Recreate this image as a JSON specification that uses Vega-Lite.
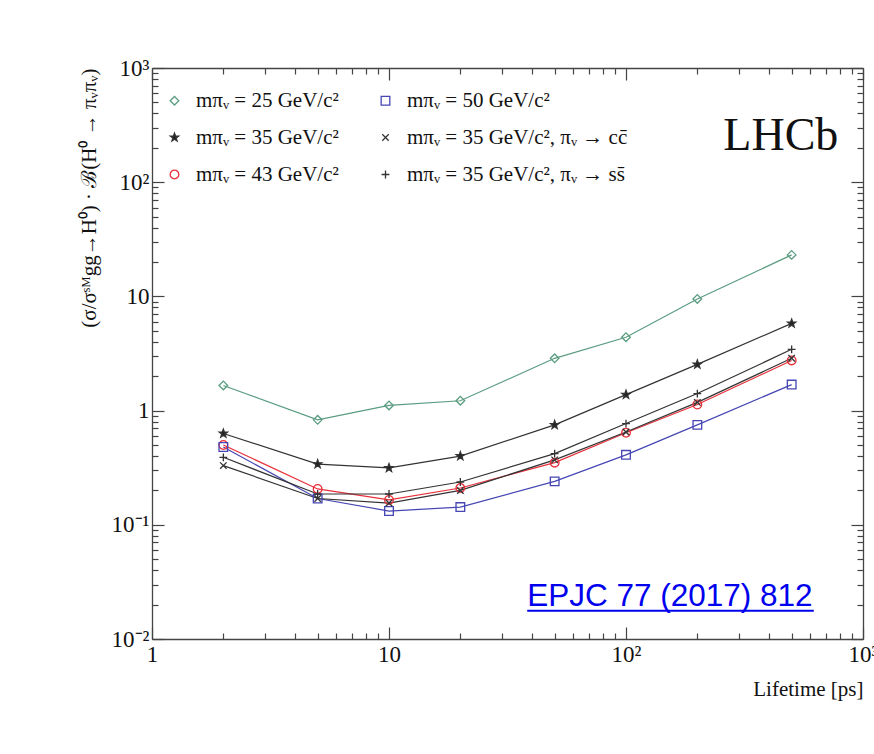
{
  "$schema": "https://vega.github.io/schema/vega-lite/v6.json",
  "width": 711,
  "height": 571,
  "autosize": {"type": "none"},
  "padding": {"left": 152, "top": 68, "right": 11, "bottom": 115},
  "background": "white",
  "config": {
    "view": {"stroke": null},
    "axis": {"grid": false, "domainColor": "#444", "domainWidth": 1.3, "tickColor": "#444", "tickWidth": 1.2,
             "labelFont": "Liberation Serif", "labelFontSize": 23, "labelColor": "#111",
             "titleFont": "Liberation Serif", "titleFontSize": 21, "titleFontWeight": "normal", "titleColor": "#111",
             "labelFlush": false, "labelOverlap": false}
  },
  "data": {"values": [
    {"t": 2, "v": 1.66, "s": "mπᵥ = 25 GeV/c²"},
    {"t": 5, "v": 0.83, "s": "mπᵥ = 25 GeV/c²"},
    {"t": 10, "v": 1.11, "s": "mπᵥ = 25 GeV/c²"},
    {"t": 20, "v": 1.22, "s": "mπᵥ = 25 GeV/c²"},
    {"t": 50, "v": 2.87, "s": "mπᵥ = 25 GeV/c²"},
    {"t": 100, "v": 4.39, "s": "mπᵥ = 25 GeV/c²"},
    {"t": 200, "v": 9.5, "s": "mπᵥ = 25 GeV/c²"},
    {"t": 500, "v": 23.1, "s": "mπᵥ = 25 GeV/c²"},
    {"t": 2, "v": 0.63, "s": "mπᵥ = 35 GeV/c²"},
    {"t": 5, "v": 0.34, "s": "mπᵥ = 35 GeV/c²"},
    {"t": 10, "v": 0.315, "s": "mπᵥ = 35 GeV/c²"},
    {"t": 20, "v": 0.4, "s": "mπᵥ = 35 GeV/c²"},
    {"t": 50, "v": 0.75, "s": "mπᵥ = 35 GeV/c²"},
    {"t": 100, "v": 1.38, "s": "mπᵥ = 35 GeV/c²"},
    {"t": 200, "v": 2.54, "s": "mπᵥ = 35 GeV/c²"},
    {"t": 500, "v": 5.8, "s": "mπᵥ = 35 GeV/c²"},
    {"t": 2, "v": 0.5, "s": "mπᵥ = 43 GeV/c²"},
    {"t": 5, "v": 0.206, "s": "mπᵥ = 43 GeV/c²"},
    {"t": 10, "v": 0.165, "s": "mπᵥ = 43 GeV/c²"},
    {"t": 20, "v": 0.21, "s": "mπᵥ = 43 GeV/c²"},
    {"t": 50, "v": 0.35, "s": "mπᵥ = 43 GeV/c²"},
    {"t": 100, "v": 0.64, "s": "mπᵥ = 43 GeV/c²"},
    {"t": 200, "v": 1.13, "s": "mπᵥ = 43 GeV/c²"},
    {"t": 500, "v": 2.75, "s": "mπᵥ = 43 GeV/c²"},
    {"t": 2, "v": 0.48, "s": "mπᵥ = 50 GeV/c²"},
    {"t": 5, "v": 0.17, "s": "mπᵥ = 50 GeV/c²"},
    {"t": 10, "v": 0.132, "s": "mπᵥ = 50 GeV/c²"},
    {"t": 20, "v": 0.143, "s": "mπᵥ = 50 GeV/c²"},
    {"t": 50, "v": 0.24, "s": "mπᵥ = 50 GeV/c²"},
    {"t": 100, "v": 0.41, "s": "mπᵥ = 50 GeV/c²"},
    {"t": 200, "v": 0.75, "s": "mπᵥ = 50 GeV/c²"},
    {"t": 500, "v": 1.69, "s": "mπᵥ = 50 GeV/c²"},
    {"t": 2, "v": 0.33, "s": "mπᵥ = 35 GeV/c², πᵥ → cc̄"},
    {"t": 5, "v": 0.17, "s": "mπᵥ = 35 GeV/c², πᵥ → cc̄"},
    {"t": 10, "v": 0.155, "s": "mπᵥ = 35 GeV/c², πᵥ → cc̄"},
    {"t": 20, "v": 0.2, "s": "mπᵥ = 35 GeV/c², πᵥ → cc̄"},
    {"t": 50, "v": 0.37, "s": "mπᵥ = 35 GeV/c², πᵥ → cc̄"},
    {"t": 100, "v": 0.65, "s": "mπᵥ = 35 GeV/c², πᵥ → cc̄"},
    {"t": 200, "v": 1.18, "s": "mπᵥ = 35 GeV/c², πᵥ → cc̄"},
    {"t": 500, "v": 2.87, "s": "mπᵥ = 35 GeV/c², πᵥ → cc̄"},
    {"t": 2, "v": 0.39, "s": "mπᵥ = 35 GeV/c², πᵥ → ss̄"},
    {"t": 5, "v": 0.186, "s": "mπᵥ = 35 GeV/c², πᵥ → ss̄"},
    {"t": 10, "v": 0.186, "s": "mπᵥ = 35 GeV/c², πᵥ → ss̄"},
    {"t": 20, "v": 0.237, "s": "mπᵥ = 35 GeV/c², πᵥ → ss̄"},
    {"t": 50, "v": 0.42, "s": "mπᵥ = 35 GeV/c², πᵥ → ss̄"},
    {"t": 100, "v": 0.77, "s": "mπᵥ = 35 GeV/c², πᵥ → ss̄"},
    {"t": 200, "v": 1.41, "s": "mπᵥ = 35 GeV/c², πᵥ → ss̄"},
    {"t": 500, "v": 3.44, "s": "mπᵥ = 35 GeV/c², πᵥ → ss̄"}
  ]},
  "layer": [
    {
      "mark": {"type": "line", "strokeWidth": 1.2},
      "encoding": {
        "x": {"field": "t", "type": "quantitative", "scale": {"type": "log", "domain": [1, 1000], "nice": false},
              "axis": {"orient": "bottom", "title": "Lifetime [ps]", "titleAnchor": "end", "titlePadding": 6,
                       "values": [1,2,3,4,5,6,7,8,9,10,20,30,40,50,60,70,80,90,100,200,300,400,500,600,700,800,900,1000],
                       "labelExpr": "datum.value == 1 ? '1' : datum.value == 10 ? '10' : datum.value == 100 ? '10²' : datum.value == 1000 ? '10³' : ''",
                       "tickSize": {"condition": {"test": "indexof([1,10,100,1000], datum.value) >= 0", "value": -12}, "value": -6},
                       "labelPadding": 16}},
        "y": {"field": "v", "type": "quantitative", "scale": {"type": "log", "domain": [0.01, 1000], "nice": false},
              "axis": {"orient": "left", "title": "(σ/σˢᴹgg→H⁰) · ℬ(H⁰ → πᵥπᵥ)", "titleAnchor": "end", "titlePadding": 12,
                       "values": [0.01,0.02,0.03,0.04,0.05,0.06,0.07,0.08,0.09,0.1,0.2,0.3,0.4,0.5,0.6,0.7,0.8,0.9,1,2,3,4,5,6,7,8,9,10,20,30,40,50,60,70,80,90,100,200,300,400,500,600,700,800,900,1000],
                       "labelExpr": "datum.value == 1000 ? '10³' : datum.value == 100 ? '10²' : datum.value == 10 ? '10' : datum.value == 1 ? '1' : datum.value == 0.1 ? '10⁻¹' : datum.value == 0.01 ? '10⁻²' : ''",
                       "tickSize": {"condition": {"test": "indexof([0.01,0.1,1,10,100,1000], datum.value) >= 0", "value": -12}, "value": -6},
                       "labelPadding": 15}},
        "color": {"field": "s", "type": "nominal",
                  "scale": {"domain": ["mπᵥ = 25 GeV/c²", "mπᵥ = 35 GeV/c²", "mπᵥ = 43 GeV/c²", "mπᵥ = 50 GeV/c²", "mπᵥ = 35 GeV/c², πᵥ → cc̄", "mπᵥ = 35 GeV/c², πᵥ → ss̄"],
                            "range": ["#5a9c80", "#333333", "#e8303a", "#4646b4", "#333333", "#333333"]},
                  "legend": {"orient": "none", "legendX": 12, "legendY": 22, "title": null, "columns": 2,
                             "labelFont": "Liberation Serif", "labelFontSize": 21, "labelColor": "#111",
                             "symbolSize": 75, "symbolStrokeWidth": 1.3, "labelOffset": 11, "columnPadding": 36, "rowPadding": 15,
                             "labelLimit": 400}},
        "detail": {"field": "s"}
      }
    },
    {
      "mark": {"type": "point", "filled": false, "strokeWidth": 1.3, "size": 75, "opacity": 1},
      "encoding": {
        "x": {"field": "t", "type": "quantitative",
              "axis": {"orient": "top", "title": null, "labels": false,
                       "values": [1,2,3,4,5,6,7,8,9,10,20,30,40,50,60,70,80,90,100,200,300,400,500,600,700,800,900,1000],
                       "tickSize": {"condition": {"test": "indexof([1,10,100,1000], datum.value) >= 0", "value": -12}, "value": -6}}},
        "y": {"field": "v", "type": "quantitative",
              "axis": {"orient": "right", "title": null, "labels": false,
                       "values": [0.01,0.02,0.03,0.04,0.05,0.06,0.07,0.08,0.09,0.1,0.2,0.3,0.4,0.5,0.6,0.7,0.8,0.9,1,2,3,4,5,6,7,8,9,10,20,30,40,50,60,70,80,90,100,200,300,400,500,600,700,800,900,1000],
                       "tickSize": {"condition": {"test": "indexof([0.01,0.1,1,10,100,1000], datum.value) >= 0", "value": -12}, "value": -6}}},
        "color": {"field": "s", "type": "nominal"},
        "shape": {"field": "s", "type": "nominal",
                  "scale": {"domain": ["mπᵥ = 25 GeV/c²", "mπᵥ = 35 GeV/c²", "mπᵥ = 43 GeV/c²", "mπᵥ = 50 GeV/c²", "mπᵥ = 35 GeV/c², πᵥ → cc̄", "mπᵥ = 35 GeV/c², πᵥ → ss̄"],
                            "range": ["diamond", "M0,-1L0.24,-0.33L0.95,-0.31L0.38,0.12L0.59,0.81L0,0.4L-0.59,0.81L-0.38,0.12L-0.95,-0.31L-0.24,-0.33Z", "circle", "square", "M-0.75,-0.75L0.75,0.75M-0.75,0.75L0.75,-0.75", "M-0.9,0L0.9,0M0,-0.9L0,0.9"]}},
        "fill": {"field": "s", "type": "nominal",
                 "scale": {"domain": ["mπᵥ = 25 GeV/c²", "mπᵥ = 35 GeV/c²", "mπᵥ = 43 GeV/c²", "mπᵥ = 50 GeV/c²", "mπᵥ = 35 GeV/c², πᵥ → cc̄", "mπᵥ = 35 GeV/c², πᵥ → ss̄"],
                           "range": ["transparent", "#222222", "transparent", "transparent", "transparent", "transparent"]}}
      }
    },
    {
      "data": {"values": [{}]},
      "mark": {"type": "text", "text": "LHCb", "font": "Liberation Serif", "fontSize": 46, "align": "center", "baseline": "alphabetic", "color": "#111"},
      "encoding": {"x": {"datum": 450, "type": "quantitative", "axis": null}, "y": {"datum": 190, "type": "quantitative", "axis": null}}
    },
    {
      "data": {"values": [{}]},
      "mark": {"type": "text", "text": "EPJC 77 (2017) 812", "font": "Liberation Sans", "fontSize": 31.5, "align": "left", "baseline": "alphabetic", "color": "#0000ee"},
      "encoding": {"x": {"datum": 38.3, "type": "quantitative", "axis": null}, "y": {"datum": 0.0196, "type": "quantitative", "axis": null}}
    },
    {
      "data": {"values": [{}]},
      "mark": {"type": "rule", "color": "#0000ee", "strokeWidth": 2},
      "encoding": {"x": {"datum": 38.3, "type": "quantitative", "axis": null}, "x2": {"datum": 620},
                   "y": {"datum": 0.0177, "type": "quantitative", "axis": null}}
    }
  ],
  "resolve": {"axis": {"x": "independent", "y": "independent"}}
}
